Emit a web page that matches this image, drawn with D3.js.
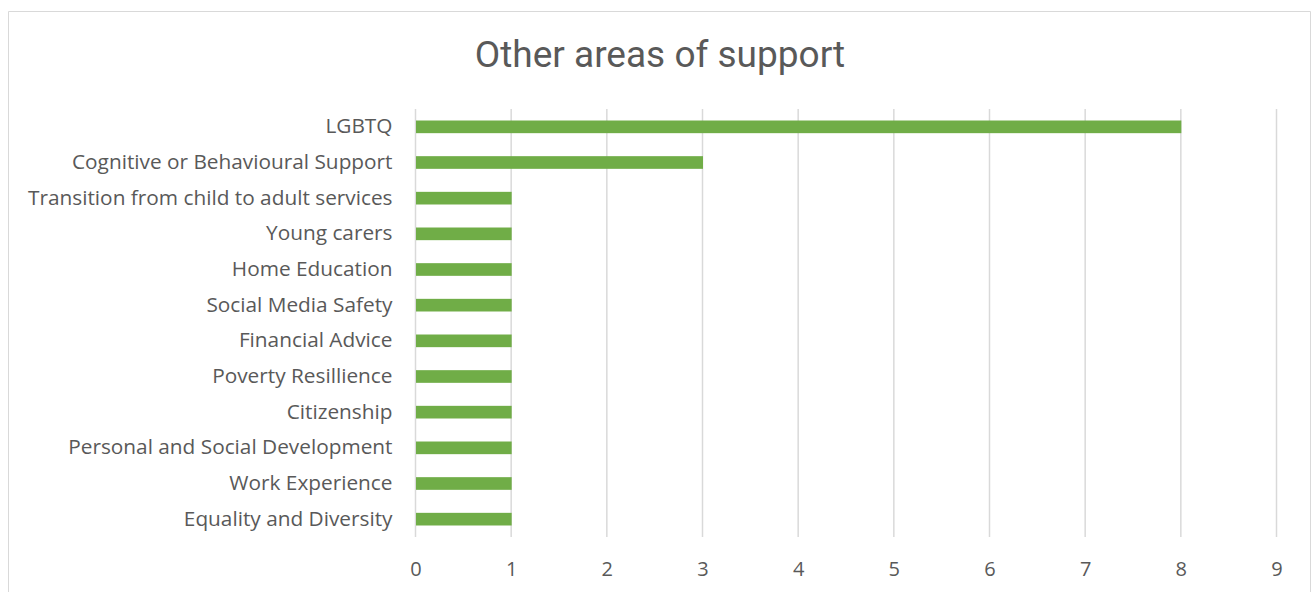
<!DOCTYPE html>
<html>
<head>
<meta charset="utf-8">
<script src="https://cdn.jsdelivr.net/npm/d3@7"></script>
<style>
  body { margin: 0; background: #fff; }
  svg text { font-family: "Open Sans", "Noto Sans", sans-serif; fill: #595959; }
</style>
</head>
<body>
<div id="chart"></div>
<script>
const categories = [
  'LGBTQ',
  'Cognitive or Behavioural Support',
  'Transition from child to adult services',
  'Young carers',
  'Home Education',
  'Social Media Safety',
  'Financial Advice',
  'Poverty Resillience',
  'Citizenship',
  'Personal and Social Development',
  'Work Experience',
  'Equality and Diversity'
]
const counts = [8, 3, 1, 1, 1, 1, 1, 1, 1, 1, 1, 1]
const xTicks = [0, 1, 2, 3, 4, 5, 6, 7, 8, 9]
const chartTitle = 'Other areas of support'

const width = 1312
const height = 592
const margin = { top: 109, left: 415.5 }
const innerWidth = 1276.5 - margin.left
const innerHeight = 537 - margin.top

const data = categories.map((c, i) => ({ category: c, value: counts[i] }))

const svg = d3.select('#chart')
  .append('svg')
  .attr('width', width)
  .attr('height', height)

// chart frame (bottom edge falls outside the picture)
const frame = d3.path()
frame.moveTo(8.5, height)
frame.lineTo(8.5, 11.5)
frame.lineTo(1310.5, 11.5)
frame.lineTo(1310.5, height)
svg.append('path')
  .attr('d', frame.toString())
  .attr('fill', 'none')
  .attr('stroke', '#D9D9D9')
  .attr('stroke-width', 1)

svg.append('text')
  .attr('x', 660)
  .attr('y', 67)
  .attr('text-anchor', 'middle')
  .style('font-family', 'Roboto, "Open Sans", sans-serif')
  .style('font-size', '37px')
  .text(chartTitle)

const xScale = d3.scaleLinear().domain([0, 9]).range([0, innerWidth])
const yScale = d3.scaleBand().domain(categories).range([0, innerHeight]).paddingInner(0.645).paddingOuter(0.3225)

const g = svg.append('g')
  .attr('transform', `translate(${margin.left}, ${margin.top})`)

// gridlines
g.append('g')
  .selectAll('line')
  .data(xTicks)
  .join('line')
  .attr('x1', d => xScale(d))
  .attr('x2', d => xScale(d))
  .attr('y1', 0)
  .attr('y2', innerHeight)
  .attr('stroke', '#D9D9D9')
  .attr('stroke-width', 1.5)

// bars
g.append('g')
  .selectAll('rect')
  .data(data)
  .join('rect')
  .attr('x', xScale(0) + 0.5)
  .attr('y', d => yScale(d.category))
  .attr('width', d => xScale(d.value) - xScale(0))
  .attr('height', yScale.bandwidth())
  .attr('fill', '#70AD47')

// x axis labels
const xAxis = g.append('g')
  .attr('transform', `translate(0, ${innerHeight})`)
  .call(d3.axisBottom(xScale).tickValues(xTicks).tickSize(0).tickPadding(25).tickFormat(d3.format('d')))
xAxis.select('.domain').remove()
xAxis.selectAll('text')
  .style('font-size', '20px')
  .attr('fill', '#595959')

// y axis labels
const yAxis = g.append('g')
  .call(d3.axisLeft(yScale).tickSize(0).tickPadding(23))
yAxis.select('.domain').remove()
yAxis.selectAll('text')
  .style('font-size', '20.8px')
  .attr('fill', '#595959')
</script>
</body>
</html>
